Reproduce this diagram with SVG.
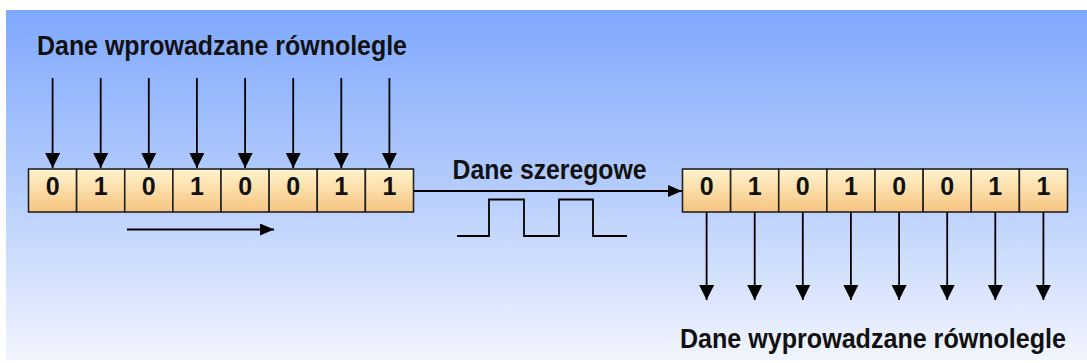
<svg xmlns="http://www.w3.org/2000/svg" width="1087" height="363" viewBox="0 0 1087 363">
<defs>
<linearGradient id="bg" x1="0" y1="0" x2="0" y2="1">
<stop offset="0" stop-color="#7fa8fe"/>
<stop offset="0.5" stop-color="#b4ccfc"/>
<stop offset="1" stop-color="#f2f5fe"/>
</linearGradient>
<linearGradient id="cell" x1="0" y1="0" x2="0" y2="1">
<stop offset="0" stop-color="#fff4cf"/>
<stop offset="1" stop-color="#f7c47f"/>
</linearGradient>
<marker id="headV" markerUnits="userSpaceOnUse" viewBox="0 0 15 15" refX="15" refY="7.5" markerWidth="15" markerHeight="15" orient="auto">
<path d="M0,0 L15,7.5 L0,15 z" fill="#000"/>
</marker>
<marker id="headS" markerUnits="userSpaceOnUse" viewBox="0 0 14 12" refX="14" refY="6" markerWidth="14" markerHeight="12" orient="auto">
<path d="M0,0 L14,6 L0,12 z" fill="#000"/>
</marker>
</defs>
<style>
.lbl{font-family:"Liberation Sans",Arial,sans-serif;font-weight:bold;fill:#111;font-size:25px;}
.dig{font-family:"Liberation Sans",Arial,sans-serif;font-weight:bold;font-size:25px;fill:#111;text-anchor:middle;}
.c{fill:url(#cell);stroke:#222;stroke-width:1.6;}
.ln{stroke:#000;stroke-width:1.8;fill:none;}
.av{marker-end:url(#headV);}
.as{marker-end:url(#headS);}
</style>
<rect x="0" y="0" width="1087" height="363" fill="#fff"/>
<rect x="6" y="10" width="1081" height="350" fill="url(#bg)"/>

<g id="label-input"><text class="lbl" transform="translate(37,55) scale(1,1.1)" x="0" y="0" textLength="370" lengthAdjust="spacingAndGlyphs">Dane wprowadzane równolegle</text></g>
<g id="label-serial"><text class="lbl" transform="translate(452.5,179) scale(1,1.1)" x="0" y="0" textLength="194" lengthAdjust="spacingAndGlyphs">Dane szeregowe</text></g>
<g id="label-output"><text class="lbl" transform="translate(680,348) scale(1,1.1)" x="0" y="0" textLength="386" lengthAdjust="spacingAndGlyphs">Dane wyprowadzane równolegle</text></g>

<g id="register-in">
<rect class="c" x="28.5" y="169" width="48.125" height="43"/>
<rect class="c" x="76.625" y="169" width="48.125" height="43"/>
<rect class="c" x="124.75" y="169" width="48.125" height="43"/>
<rect class="c" x="172.875" y="169" width="48.125" height="43"/>
<rect class="c" x="221" y="169" width="48.125" height="43"/>
<rect class="c" x="269.125" y="169" width="48.125" height="43"/>
<rect class="c" x="317.25" y="169" width="48.125" height="43"/>
<rect class="c" x="365.375" y="169" width="48.125" height="43"/>
<text class="dig" x="52.6" y="195">0</text>
<text class="dig" x="100.7" y="195">1</text>
<text class="dig" x="148.8" y="195">0</text>
<text class="dig" x="196.9" y="195">1</text>
<text class="dig" x="245.1" y="195">0</text>
<text class="dig" x="293.2" y="195">0</text>
<text class="dig" x="341.3" y="195">1</text>
<text class="dig" x="389.4" y="195">1</text>
</g>

<g id="register-out">
<rect class="c" x="682.5" y="169" width="48.125" height="43"/>
<rect class="c" x="730.625" y="169" width="48.125" height="43"/>
<rect class="c" x="778.75" y="169" width="48.125" height="43"/>
<rect class="c" x="826.875" y="169" width="48.125" height="43"/>
<rect class="c" x="875" y="169" width="48.125" height="43"/>
<rect class="c" x="923.125" y="169" width="48.125" height="43"/>
<rect class="c" x="971.25" y="169" width="48.125" height="43"/>
<rect class="c" x="1019.375" y="169" width="48.125" height="43"/>
<text class="dig" x="706.6" y="195">0</text>
<text class="dig" x="754.7" y="195">1</text>
<text class="dig" x="802.8" y="195">0</text>
<text class="dig" x="850.9" y="195">1</text>
<text class="dig" x="899.1" y="195">0</text>
<text class="dig" x="947.2" y="195">0</text>
<text class="dig" x="995.3" y="195">1</text>
<text class="dig" x="1043.4" y="195">1</text>
</g>

<g id="waveform">
<polyline class="ln" points="457,236 489,236 489,199.5 524,199.5 524,236 559,236 559,199.5 593,199.5 593,236 627,236"/>
</g>

<g id="connectors">
<line class="ln av" x1="52.6" y1="78" x2="52.6" y2="168"/>
<line class="ln av" x1="100.7" y1="78" x2="100.7" y2="168"/>
<line class="ln av" x1="148.8" y1="78" x2="148.8" y2="168"/>
<line class="ln av" x1="196.9" y1="78" x2="196.9" y2="168"/>
<line class="ln av" x1="245.1" y1="78" x2="245.1" y2="168"/>
<line class="ln av" x1="293.2" y1="78" x2="293.2" y2="168"/>
<line class="ln av" x1="341.3" y1="78" x2="341.3" y2="168"/>
<line class="ln av" x1="389.4" y1="78" x2="389.4" y2="168"/>

<line class="ln av" x1="706.6" y1="212" x2="706.6" y2="300"/>
<line class="ln av" x1="754.7" y1="212" x2="754.7" y2="300"/>
<line class="ln av" x1="802.8" y1="212" x2="802.8" y2="300"/>
<line class="ln av" x1="850.9" y1="212" x2="850.9" y2="300"/>
<line class="ln av" x1="899.1" y1="212" x2="899.1" y2="300"/>
<line class="ln av" x1="947.2" y1="212" x2="947.2" y2="300"/>
<line class="ln av" x1="995.3" y1="212" x2="995.3" y2="300"/>
<line class="ln av" x1="1043.4" y1="212" x2="1043.4" y2="300"/>

<line class="ln as" x1="413.5" y1="191" x2="682" y2="191"/>
<line class="ln as" x1="127" y1="229.5" x2="274" y2="229.5"/>
</g>
</svg>
